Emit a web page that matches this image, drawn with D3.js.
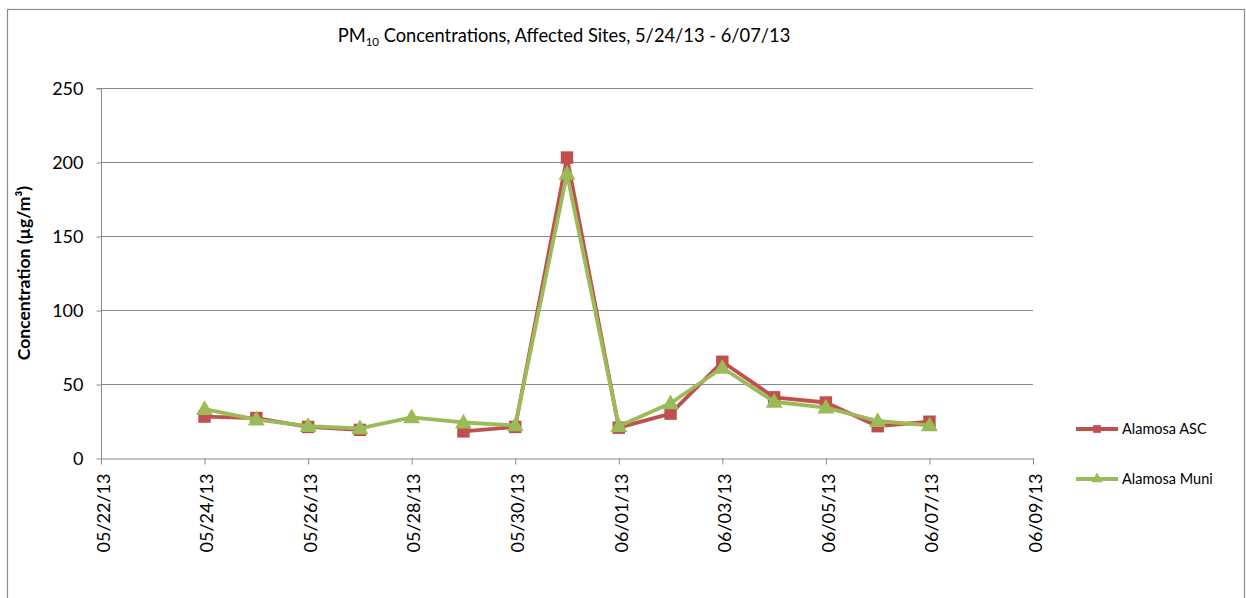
<!DOCTYPE html>
<html>
<head>
<meta charset="utf-8">
<script src="https://cdn.jsdelivr.net/npm/d3@7"></script>
<style>
  body { margin: 0; background: #fff; }
  text { font-family: Lato, "Open Sans", sans-serif; fill: #000; }
</style>
</head>
<body>
<div id="chart"></div>
<script>
// Data
const dates = ["05/24/13", "05/25/13", "05/26/13", "05/27/13", "05/28/13", "05/29/13", "05/30/13",
               "05/31/13", "06/01/13", "06/02/13", "06/03/13", "06/04/13", "06/05/13", "06/06/13", "06/07/13"];
const asc  = [28, 27, 21, 19, null, 18, 21, 203, 20.5, 30, 65, 41, 37.5, 21.5, 24.5];
const muni = [33, 26, 21.5, 20, 27.5, 24, 22, 192, 21.5, 37, 61, 38, 34, 25, 22];
const seriesNames = ["Alamosa ASC", "Alamosa Muni"];
const yTicks = [0, 50, 100, 150, 200, 250];
const xTickLabels = ["05/22/13", "05/24/13", "05/26/13", "05/28/13", "05/30/13",
                     "06/01/13", "06/03/13", "06/05/13", "06/07/13", "06/09/13"];

const width = 1246, height = 598;
const parse = d3.timeParse("%m/%d/%y");
const fmt = d3.timeFormat("%m/%d/%y");

const svg = d3.select("#chart").append("svg")
    .attr("width", width)
    .attr("height", height);

// chart border
svg.append("rect")
    .attr("x", 7.5).attr("y", 9.5)
    .attr("width", 1237).attr("height", 600)
    .attr("fill", "none")
    .attr("stroke", "#8c8c8c")
    .attr("stroke-width", 1.2);

const x = d3.scaleTime()
    .domain([parse(xTickLabels[0]), parse(xTickLabels[xTickLabels.length - 1])])
    .range([101, 1033]);

const y = d3.scaleLinear()
    .domain([0, 250])
    .range([458, 88]);

// gridlines
svg.append("g")
    .selectAll("line")
    .data(yTicks.filter(d => d > 0))
    .enter().append("line")
    .attr("x1", 101).attr("x2", 1033)
    .attr("y1", d => Math.round(y(d)) + 0.5)
    .attr("y2", d => Math.round(y(d)) + 0.5)
    .attr("stroke", "#8a8a8a")
    .attr("stroke-width", 1.2);

// y axis
const yAxis = svg.append("g")
    .attr("transform", "translate(101.5,0.5)")
    .call(d3.axisLeft(y).tickValues(yTicks).tickSize(5).tickPadding(13));
yAxis.selectAll("line, path").attr("stroke", "#8a8a8a");
yAxis.select(".domain").attr("d", `M-5,${y(250)}H0V${y(0)}`);
yAxis.selectAll("text")
    .style("font-size", "18px")
    .style("font-family", "Lato, sans-serif");

// x axis
const xAxis = svg.append("g")
    .attr("transform", `translate(0,${Math.round(y(0)) + 0.5})`)
    .call(d3.axisBottom(x)
        .tickValues(xTickLabels.map(parse))
        .tickFormat(fmt)
        .tickSize(6)
        .tickSizeOuter(0));
xAxis.selectAll("line, path").attr("stroke", "#8a8a8a");
xAxis.selectAll("text")
    .style("font-size", "18px")
    .style("font-family", "Lato, sans-serif")
    .attr("transform", "rotate(-90)")
    .attr("text-anchor", "end")
    .attr("x", -15)
    .attr("y", 2)
    .attr("dy", "0.35em");

// title
const title = svg.append("text")
    .attr("x", 564).attr("y", 42)
    .attr("text-anchor", "middle")
    .style("font-size", "18.3px");
title.append("tspan").text("PM");
title.append("tspan").text("10").style("font-size", "11.5px").attr("dy", 4);
title.append("tspan").text(" Concentrations, Affected Sites, 5/24/13 - 6/07/13").attr("dy", -4);

// y axis label
svg.append("text")
    .attr("transform", "translate(30,273) rotate(-90)")
    .attr("text-anchor", "middle")
    .style("font-size", "17.5px")
    .style("font-weight", "bold")
    .text("Concentration (µg/m³)");

const colors = ["#C0504D", "#9BBB59"];
const allSeries = [asc, muni];

const line = d3.line()
    .defined(d => d.v != null)
    .x(d => x(d.date))
    .y(d => y(d.v));

allSeries.forEach((vals, i) => {
    const pts = dates.map((d, j) => ({ date: parse(d), v: vals[j] }));
    svg.append("path")
        .datum(pts)
        .attr("d", line)
        .attr("fill", "none")
        .attr("stroke", colors[i])
        .attr("stroke-width", 3.8)
        .attr("stroke-linejoin", "round");

    const sym = d3.symbol().type(i === 0 ? d3.symbolSquare : d3.symbolTriangle).size(i === 0 ? 155 : 125);
    svg.append("g")
        .selectAll("path")
        .data(pts.filter(p => p.v != null))
        .enter().append("path")
        .attr("d", sym)
        .attr("transform", p => `translate(${x(p.date)},${y(p.v) + (i === 1 ? 1 : 0)})`)
        .attr("fill", colors[i]);
});

// legend
const legend = svg.append("g");
seriesNames.forEach((name, i) => {
    const ly = 429 + i * 50;
    legend.append("line")
        .attr("x1", 1076).attr("x2", 1118)
        .attr("y1", ly).attr("y2", ly)
        .attr("stroke", colors[i])
        .attr("stroke-width", 3.8);
    legend.append("path")
        .attr("d", d3.symbol().type(i === 0 ? d3.symbolSquare : d3.symbolTriangle).size(i === 0 ? 60 : 55))
        .attr("transform", `translate(1097,${ly})`)
        .attr("fill", colors[i]);
    legend.append("text")
        .attr("x", 1122).attr("y", ly)
        .attr("dy", "0.35em")
        .style("font-size", "14.5px")
        .text(name);
});
</script>
</body>
</html>
